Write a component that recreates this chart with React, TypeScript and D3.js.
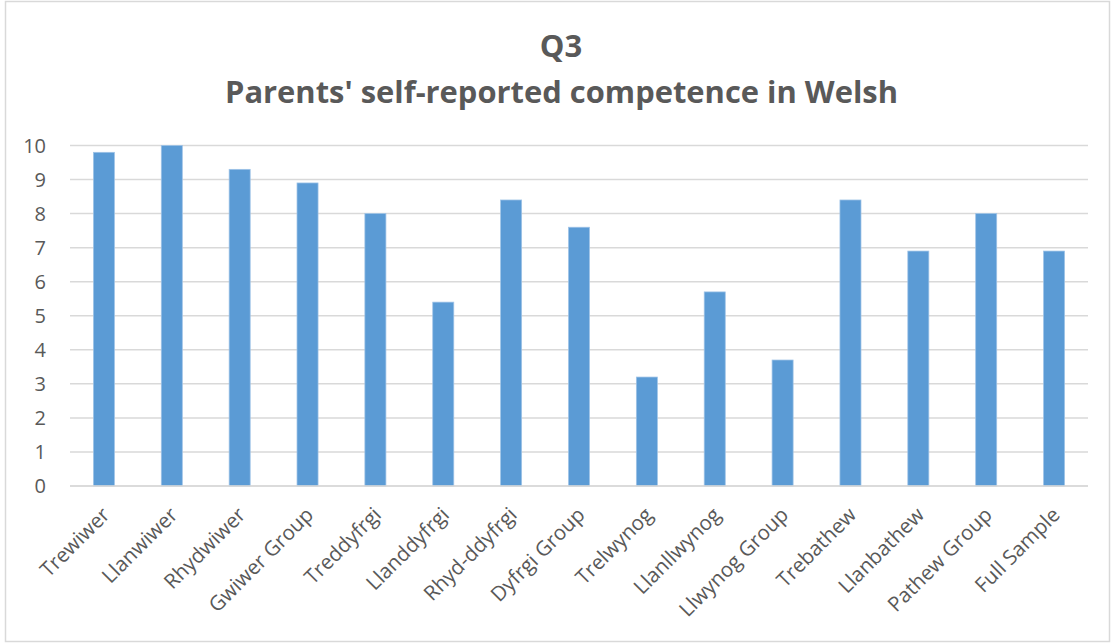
import React from "react";
import * as d3 from "d3";

const categories: string[] = [
  "Trewiwer", "Llanwiwer", "Rhydwiwer", "Gwiwer Group", "Treddyfrgi", "Llanddyfrgi",
  "Rhyd-ddyfrgi", "Dyfrgi Group", "Trelwynog", "Llanllwynog", "Llwynog Group",
  "Trebathew", "Llanbathew", "Pathew Group", "Full Sample",
];
const values: number[] = [9.8, 10, 9.3, 8.9, 8.0, 5.4, 8.4, 7.6, 3.2, 5.7, 3.7, 8.4, 6.9, 8.0, 6.9];
const yTicks: number[] = [0, 1, 2, 3, 4, 5, 6, 7, 8, 9, 10];
const titleLines: string[] = ["Q3", "Parents' self-reported competence in Welsh"];

const W = 1112;
const H = 643;
const left = 70;
const right = 1088;
const top = 145.5;
const bottom = 486;
const textColor = "#595959";
const gridColor = "#d9d9d9";
const barColor = "#5b9bd5";

export default function App() {
  const x = d3.scaleBand<string>().domain(categories).range([left, right]).paddingInner(0.69).paddingOuter(0.345);
  const y = d3.scaleLinear().domain([0, 10]).range([bottom, top]);
  const font = "'Open Sans', sans-serif";

  return (
    <svg width={W} height={H} style={{ position: "absolute", left: 0, top: 0, background: "#fff" }}>
      <rect x={5.5} y={1.5} width={1104} height={640} fill="#fff" stroke={gridColor} strokeWidth={1.5} />
      <text x={561} y={56.5} textAnchor="middle" fontFamily={font} fontWeight={700} fontSize={31} fill={textColor}>
        {titleLines[0]}
      </text>
      <text x={561.5} y={103} textAnchor="middle" fontFamily={font} fontWeight={700} fontSize={31} fill={textColor}
        textLength={673} lengthAdjust="spacingAndGlyphs">
        {titleLines[1]}
      </text>
      {yTicks.map((t) => (
        <g key={t}>
          <line x1={left} x2={right} y1={y(t)} y2={y(t)} stroke={gridColor} strokeWidth={1.5} />
          <text x={46} y={y(t)} dy="0.36em" textAnchor="end" fontFamily={font} fontSize={20} fill={textColor}>
            {t}
          </text>
        </g>
      ))}
      {categories.map((c, i) => (
        <rect key={c} x={x(c)} y={y(values[i])} width={x.bandwidth()} height={bottom - y(values[i])}
          fill={barColor} stroke="#9fc3e7" strokeWidth={0.75} />
      ))}
      <line x1={left} x2={right} y1={bottom} y2={bottom} stroke={gridColor} strokeWidth={1.5} />
      {categories.map((c) => {
        const cx = (x(c) as number) + x.bandwidth() / 2;
        return (
          <text key={c} transform={`translate(${cx + 2},${bottom + 25}) rotate(-45)`} textAnchor="end"
            dy="0.35em" fontFamily={font} fontSize={20.5} fill={textColor}>
            {c}
          </text>
        );
      })}
    </svg>
  );
}
